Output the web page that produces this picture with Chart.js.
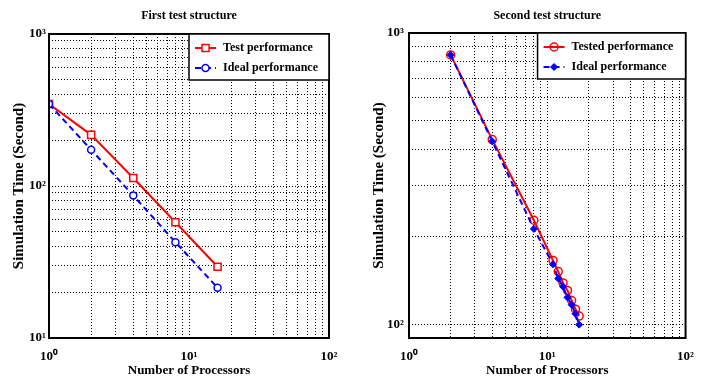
<!DOCTYPE html>
<html>
<head>
<meta charset="utf-8">
<script src="https://cdn.jsdelivr.net/npm/chart.js@4.4.0/dist/chart.umd.min.js"></script>
<style>
  html, body { margin: 0; padding: 0; background: #fff; }
  #wrap { position: relative; width: 705px; height: 379px; }
  .panel { position: absolute; top: 0; height: 379px; }
</style>
</head>
<body>
<div id="wrap">
  <div class="panel" style="left:0;width:352px"><canvas id="chart1" width="352" height="379"></canvas></div>
  <div class="panel" style="left:352px;width:353px"><canvas id="chart2" width="353" height="379"></canvas></div>
</div>
<script>
// --- data ---
const procs1 = [1, 2, 4, 8, 16];
const testTime1 = [346, 217, 113, 57.7, 29.4];
const idealTime1 = [346, 173, 86.5, 42.7, 21.4];

const procs2 = [2, 4, 8, 11, 12, 13, 14, 15, 16, 17];
const testTime2 = [841, 431, 228, 166, 152, 139, 131, 121, 113, 107];
const idealTime2 = [841, 425, 213, 161, 144, 135, 124, 117, 109, 100];

// grid lines (log decades with minor steps) and decade labels
const xGrid = [1, 2, 3, 4, 5, 6, 7, 8, 9, 10, 20, 30, 40, 50, 60, 70, 80, 90, 100];
const yGrid1 = [10, 20, 30, 40, 50, 60, 70, 80, 90, 100, 200, 300, 400, 500, 600, 700, 800, 900, 1000];
const yGrid2 = [90, 100, 200, 300, 400, 500, 600, 700, 800, 900, 1000];
const decadeValues = [1, 10, 100, 1000];
const decadeText = ['10\u2070', '10\u00b9', '10\u00b2', '10\u00b3'];

const serif = '"Liberation Serif", "Times New Roman", serif';

function decadeLabel(v) {
    const i = decadeValues.indexOf(v);
    return i >= 0 ? decadeText[i] : '';
}

// box round the plot area + title centred over it
const frameTitle = {
    id: 'frameTitle',
    afterDraw(chart, args, opts) {
        const { ctx, chartArea: a } = chart;
        ctx.save();
        ctx.strokeStyle = '#000';
        ctx.lineWidth = 2;
        ctx.strokeRect(a.left, a.top, a.right - a.left, a.bottom - a.top);
        ctx.fillStyle = '#000';
        ctx.font = 'bold 12px ' + serif;
        ctx.textAlign = 'center';
        ctx.textBaseline = 'middle';
        ctx.fillText(opts.text, (a.left + a.right) / 2, 16);
        ctx.restore();
    }
};

// legend box inside the top right corner
const legendBox = {
    id: 'legendBox',
    afterDraw(chart, args, opts) {
        const { ctx, chartArea: a } = chart;
        const w = opts.width, h = 46;
        const x = a.right - w, y = a.top;
        ctx.save();
        ctx.fillStyle = '#fff';
        ctx.fillRect(x, y, w, h);
        ctx.strokeStyle = '#000';
        ctx.lineWidth = 1.5;
        ctx.strokeRect(x, y, w, h);
        chart.data.datasets.forEach((ds, i) => {
            const cy = y + 14 + i * 20;
            ctx.strokeStyle = ds.borderColor;
            ctx.lineWidth = ds.borderWidth;
            ctx.setLineDash(ds.borderDash || []);
            ctx.beginPath();
            ctx.moveTo(x + 6, cy);
            ctx.lineTo(x + 27, cy);
            ctx.stroke();
            ctx.setLineDash([]);
            ctx.fillStyle = ds.pointBackgroundColor;
            ctx.strokeStyle = ds.borderColor;
            ctx.lineWidth = ds.pointBorderWidth;
            Chart.helpers.drawPoint(ctx, {
                pointStyle: ds.pointStyle, radius: ds.pointRadius,
                borderWidth: ds.pointBorderWidth, rotation: 0
            }, x + 16.5, cy);
            ctx.fillStyle = '#000';
            ctx.font = 'bold 12px ' + serif;
            ctx.textAlign = 'left';
            ctx.textBaseline = 'middle';
            ctx.fillText(ds.label, x + 34, cy);
        });
        ctx.restore();
    }
};

function makeChart(id, cfg) {
    const ctx = document.getElementById(id).getContext('2d');
    return new Chart(ctx, {
        type: 'line',
        data: { datasets: cfg.datasets },
        options: {
            responsive: false,
            animation: false,
            layout: { padding: { left: 0, right: cfg.padRight, top: cfg.padTop, bottom: 0 } },
            plugins: {
                legend: { display: false },
                tooltip: { enabled: false },
                frameTitle: { text: cfg.title },
                legendBox: { width: cfg.legendWidth }
            },
            scales: {
                x: {
                    type: 'logarithmic',
                    position: 'bottom',
                    min: 1, max: 100,
                    afterBuildTicks: s => { s.ticks = xGrid.map(v => ({ value: v })); },
                    afterFit: s => { s.height = 41; },
                    grid: { color: '#000', lineWidth: 1, drawTicks: false },
                    border: { display: false, dash: [1, 2] },
                    ticks: {
                        autoSkip: false, maxRotation: 0, padding: 11, color: '#000',
                        font: { family: serif, size: 13, weight: 'bold' },
                        callback: v => decadeLabel(v)
                    },
                    title: {
                        display: true, text: 'Number of Processors', color: '#000',
                        font: { family: serif, size: 13, weight: 'bold' },
                        padding: { top: 0, bottom: 1 }
                    }
                },
                y: {
                    type: 'logarithmic',
                    min: cfg.yMin, max: 1000,
                    afterBuildTicks: s => { s.ticks = cfg.yGrid.map(v => ({ value: v })); },
                    afterFit: s => { s.width = cfg.yWidth; },
                    grid: { color: '#000', lineWidth: 1, drawTicks: false },
                    border: { display: false, dash: [1, 2] },
                    ticks: {
                        autoSkip: false, padding: cfg.yTickPad, color: '#000',
                        font: { family: serif, size: 13, weight: 'bold' },
                        callback: v => decadeLabel(v)
                    },
                    title: {
                        display: true, text: 'Simulation Time (Second)', color: '#000',
                        font: { family: serif, size: 15, weight: 'bold' },
                        padding: { top: cfg.yTitlePad, bottom: 0 }
                    }
                }
            }
        },
        plugins: [frameTitle, legendBox]
    });
}

makeChart('chart1', {
    title: 'First test structure',
    padRight: 23, padTop: 34, yWidth: 49, yTickPad: 3, yTitlePad: 10,
    yMin: 10, yGrid: yGrid1, legendWidth: 140,
    datasets: [{
        label: 'Test performance',
        data: procs1.map((p, i) => ({ x: p, y: testTime1[i] })),
        borderColor: '#ff0000', borderWidth: 2,
        pointStyle: 'rect', pointRadius: 5, pointBorderWidth: 1.5,
        pointBackgroundColor: '#ffffff', order: 1
    }, {
        label: 'Ideal performance',
        data: procs1.map((p, i) => ({ x: p, y: idealTime1[i] })),
        borderColor: '#0000ff', borderWidth: 2, borderDash: [6, 4],
        pointStyle: 'circle', pointRadius: 3.5, pointBorderWidth: 1.5,
        pointBackgroundColor: '#ffffff', order: 0
    }]
});

makeChart('chart2', {
    title: 'Second test structure',
    padRight: 17, padTop: 33, yWidth: 57, yTickPad: 5, yTitlePad: 18,
    yMin: 90, yGrid: yGrid2, legendWidth: 148,
    datasets: [{
        label: 'Tested performance',
        data: procs2.map((p, i) => ({ x: p, y: testTime2[i] })),
        borderColor: '#ff0000', borderWidth: 2,
        pointStyle: 'circle', pointRadius: 4, pointBorderWidth: 1.5,
        pointBackgroundColor: 'rgba(255,0,0,0)', order: 1
    }, {
        label: 'Ideal performance',
        data: procs2.map((p, i) => ({ x: p, y: idealTime2[i] })),
        borderColor: '#0000ff', borderWidth: 2, borderDash: [6, 4],
        pointStyle: 'rectRot', pointRadius: 3.5, pointBorderWidth: 1,
        pointBackgroundColor: '#0000ff', order: 0
    }]
});
</script>
</body>
</html>
